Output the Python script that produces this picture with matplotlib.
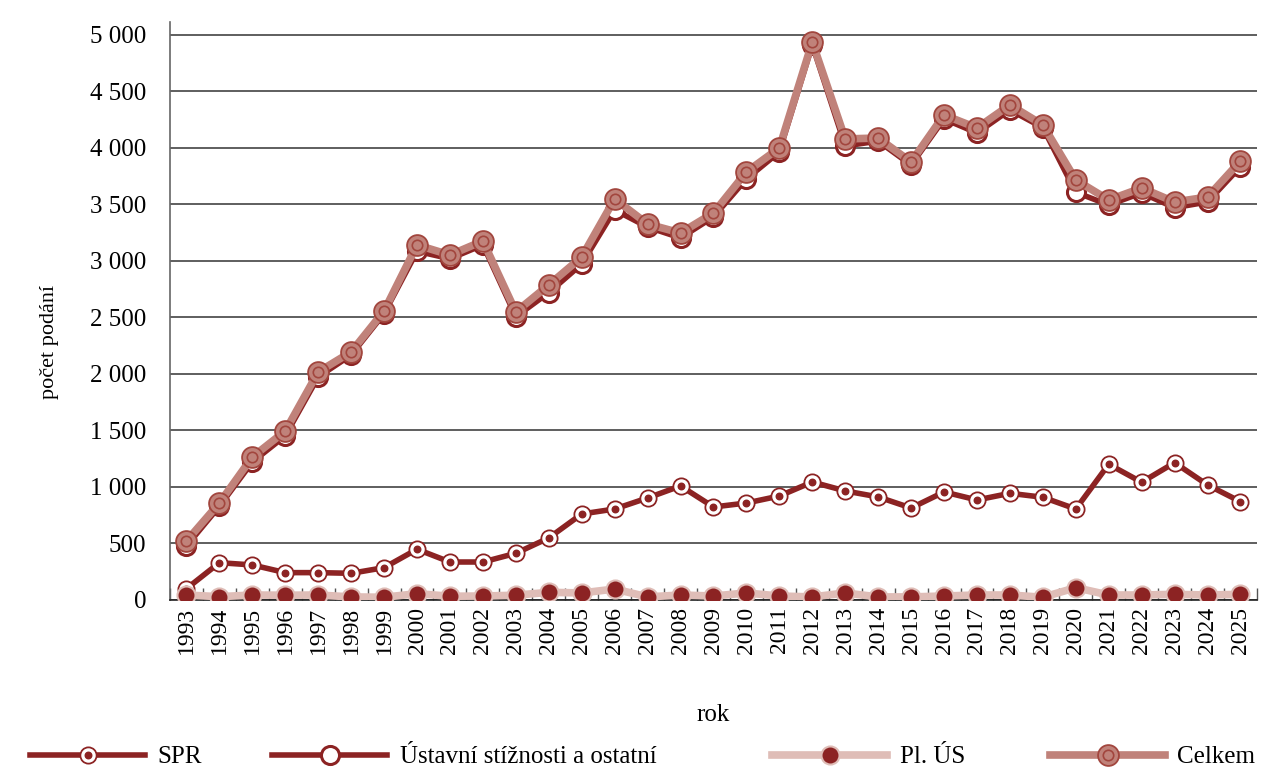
import numpy as np
import matplotlib.pyplot as plt
from matplotlib.lines import Line2D

plt.rcParams['font.family'] = ['Liberation Serif', 'DejaVu Serif']

# Data
roky = list(range(1993, 2026))
spr = [100, 330, 310, 242, 242, 236, 286, 449, 336, 336, 413, 549, 761, 805,
       903, 1009, 823, 858, 920, 1044, 965, 912, 814, 956, 885, 944, 909, 805,
       1201, 1042, 1215, 1018, 870]
ustavni = [478, 829, 1221, 1453, 1974, 2168, 2534, 3086, 3020, 3142, 2507,
           2720, 2973, 3452, 3300, 3204, 3390, 3726, 3965, 4911, 4018, 4061,
           3849, 4257, 4133, 4337, 4180, 3608, 3496, 3602, 3472, 3522, 3835]
pl_us = [44, 29, 44, 42, 44, 27, 24, 56, 33, 35, 42, 68, 62, 97, 27, 44, 35,
         62, 35, 27, 62, 27, 27, 35, 44, 44, 24, 109, 44, 44, 50, 44, 50]
celkem = [522, 858, 1265, 1495, 2018, 2195, 2558, 3142, 3053, 3177, 2549,
          2788, 3035, 3549, 3327, 3248, 3425, 3788, 4000, 4938, 4080, 4088,
          3876, 4292, 4177, 4381, 4204, 3717, 3540, 3646, 3522, 3566, 3885]
nazvy = ['SPR', 'Ústavní stížnosti a ostatní', 'Pl. ÚS', 'Celkem']

DARK = '#8c2323'
PINK = '#dfbdb7'
ROSE = '#c0827a'
ROSE_EDGE = '#a2463e'

fig = plt.figure(figsize=(12.62, 7.69), dpi=100)
ax = fig.add_axes([0.1347, 0.2198, 0.8613, 0.7516])
x = np.arange(len(roky))

# SPR - kruh s bílým prstencem a tečkou uprostřed
ax.plot(x, spr, color=DARK, lw=4.0, marker='o', ms=13, mfc=DARK, mew=0,
        zorder=3)
ax.plot(x, spr, lw=0, marker='o', ms=9.4, mfc='white', mec='white',
        zorder=3.1)
ax.plot(x, spr, lw=0, marker='o', ms=4.7, mfc=DARK, mec=DARK, zorder=3.2)
# Ústavní stížnosti
ax.plot(x, ustavni, color=DARK, lw=4.0, marker='o', ms=13, mfc='white',
        mec=DARK, mew=2.2, zorder=4)
# Celkem
ax.plot(x, celkem, color=ROSE, lw=5.5, marker='o', ms=15, mfc=ROSE,
        mec=ROSE_EDGE, mew=1.3, zorder=5)
ax.plot(x, celkem, lw=0, marker='o', ms=7.5, mfc='none', mec=ROSE_EDGE,
        mew=1.2, zorder=5.1)
# Pl. ÚS
ax.plot(x, pl_us, color=PINK, lw=5.5, marker='o', ms=13, mfc=DARK,
        mec=PINK, mew=1.5, zorder=6)

ax.set_xlim(-0.5, len(roky) - 0.5)
ax.set_ylim(0, 5115)
ax.set_yticks(range(0, 5001, 500))
ax.set_yticklabels([f'{v:,}'.replace(',', ' ') for v in range(0, 5001, 500)],
                   fontsize=18)
ax.tick_params(axis='y', length=0, pad=17)
ax.yaxis.grid(True, color='#333333', lw=1.1)
ax.set_axisbelow(True)

ax.set_xticks(x)
ax.set_xticklabels([str(r) for r in roky], rotation=90, fontsize=17)
ax.tick_params(axis='x', length=0, pad=5)
ax.set_xticks(np.arange(len(roky) + 1) - 0.5, minor=True)
ax.tick_params(axis='x', which='minor', direction='in', length=9,
               color='#555555', width=1)

for s in ['top', 'right']:
    ax.spines[s].set_visible(False)
ax.spines['left'].set_color('#666666')
ax.spines['left'].set_linewidth(1.2)
ax.spines['bottom'].set_color('#222222')
ax.spines['bottom'].set_linewidth(1.2)

ax.set_xlabel('rok', fontsize=18, labelpad=36)
ax.set_ylabel('počet podání', fontsize=16)
ax.yaxis.set_label_coords(-0.102, 0.446)

# Legenda - čtyři samostatné položky
handles = [
    (Line2D([], [], color=DARK, lw=4, marker='o', ms=13, mfc=DARK, mew=0),
     Line2D([], [], lw=0, marker='o', ms=9.4, mfc='white', mec='white'),
     Line2D([], [], lw=0, marker='o', ms=4.7, mfc=DARK, mec=DARK)),
    Line2D([], [], color=DARK, lw=4, marker='o', ms=13, mfc='white',
           mec=DARK, mew=2.2),
    Line2D([], [], color=PINK, lw=5.5, marker='o', ms=13, mfc=DARK,
           mec=PINK, mew=1.5),
    (Line2D([], [], color=ROSE, lw=5.5, marker='o', ms=15, mfc=ROSE,
            mec=ROSE_EDGE, mew=1.3),
     Line2D([], [], lw=0, marker='o', ms=7.5, mfc='none', mec=ROSE_EDGE,
            mew=1.2)),
]
leg_x = [30, 272, 772, 1050]
for h, nazev, lx in zip(handles, nazvy, leg_x):
    fig.legend([h], [nazev], loc='center left',
               bbox_to_anchor=(lx / 1262, 12 / 769), frameon=False,
               fontsize=18, handlelength=4.6, handletextpad=0.5,
               borderpad=0, borderaxespad=0)

fig.savefig('out.png', dpi=100)
